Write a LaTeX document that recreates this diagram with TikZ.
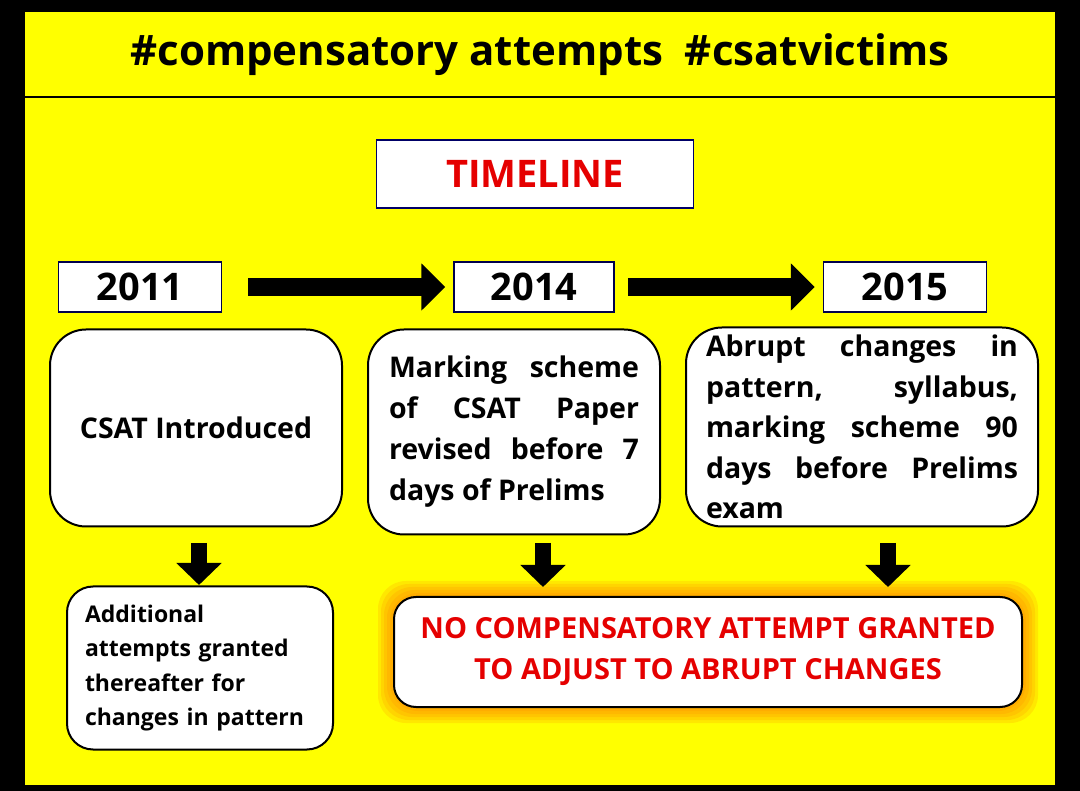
\documentclass[tikz,border=0pt]{standalone}
\usepackage{fontspec}
\setmainfont{Open Sans}
\usetikzlibrary{arrows.meta}
\definecolor{panel}{RGB}{255,255,0}
\tikzset{
  yearbox/.style={draw=black!70!blue, line width=1.5pt, fill=white, minimum width=163pt, minimum height=50pt, font=\bfseries\fontsize{38}{40}\selectfont},
  eventbox/.style={draw=black, line width=2pt, fill=white, rounded corners=36pt, font=\bfseries\fontsize{28.5}{41}\selectfont},
  bigarrow/.style={line width=18pt, draw=black, -{Triangle[length=24pt,width=46pt]}},
  downarrow/.style={line width=16pt, draw=black, -{Triangle[length=22pt,width=44pt]}},
}
\begin{document}
\hyphenpenalty=10000 \exhyphenpenalty=10000
\begin{tikzpicture}[x=1pt, y=-1pt]
  \useasboundingbox (0,0) rectangle (1080,791);
  \fill[black] (0,0) rectangle (1080,791);
  \fill[panel] (25,12) rectangle (1055,785);
  \draw[black, line width=1.5pt] (25,97) -- (1055,97);
  \node (title) at (540,55) {\bfseries\fontsize{42}{44}\selectfont \#compensatory attempts\ \ \#csatvictims};

  \node[draw=black!60!blue, line width=1.5pt, fill=white, minimum width=317pt, minimum height=68pt,
        text=red!90!black, font=\bfseries\fontsize{38}{40}\selectfont] (timeline) at (535,174) {TIMELINE};

  % years
  \node[yearbox] (y11) at (140,287) {2011};
  \node[yearbox, minimum width=160pt] (y14) at (534,287) {2014};
  \node[yearbox] (y15) at (905,287) {2015};
  \draw[bigarrow] ([xshift=26pt]y11.east) -- ([xshift=-8pt]y14.west);
  \draw[bigarrow] ([xshift=13pt]y14.east) -- ([xshift=-8pt]y15.west);

  % events
  \node[eventbox, minimum width=292pt, minimum height=197pt] (e11) at (196,428) {CSAT Introduced};
  \node[eventbox, minimum width=292pt, minimum height=205pt, text width=250pt, align=justify] (e14) at (514,432)
    {Marking scheme of CSAT Paper revised before 7 days of Prelims};
  \node[eventbox, inner ysep=0pt, minimum width=352pt, minimum height=199pt, text width=312pt, align=justify,
        font=\bfseries\fontsize{28.5}{40.5}\selectfont] (e15) at (862,427)
    {Abrupt changes in pattern, syllabus, marking scheme 90 days before Prelims exam};

  % outcomes
  \node[eventbox, rounded corners=26pt, minimum width=266pt, minimum height=163pt, text width=230pt, align=left,
        font=\bfseries\fontsize{23}{34.5}\selectfont] (o11) at (200,668)
    {Additional\\attempts granted\\thereafter for\\changes in pattern};
  \foreach \g in {16,13,10,7,4}
    \fill[orange, opacity=0.18, rounded corners=28pt] (394-\g,597-\g) rectangle (1022+\g,707+\g);
  \node[eventbox, rounded corners=22pt, minimum width=628pt, minimum height=110pt, align=center,
        text=red!90!black, font=\bfseries\fontsize{29}{41}\selectfont] (o14) at (708,652)
    {NO COMPENSATORY ATTEMPT GRANTED\\TO ADJUST TO ABRUPT CHANGES};

  \coordinate (d11) at (199,543);
  \coordinate (d14) at (543,543);
  \coordinate (d15) at (888,543);
  \draw[downarrow] (d11) -- (199,585);
  \draw[downarrow] (d14) -- (543,587);
  \draw[downarrow] (d15) -- (888,587);
\end{tikzpicture}
\end{document}
